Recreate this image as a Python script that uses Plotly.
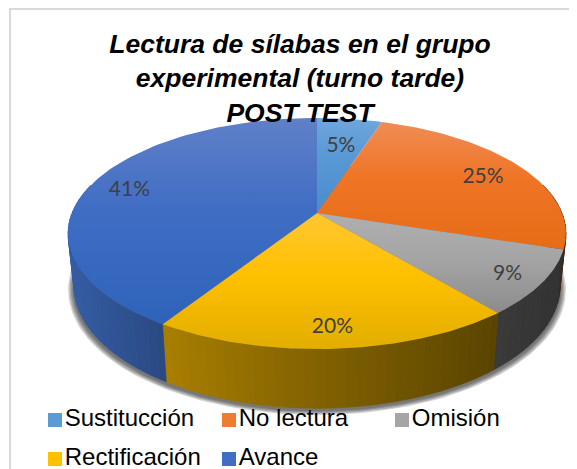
import numpy as np
import plotly.graph_objects as go

categories = ['Sustitucción', 'No lectura', 'Omisión', 'Rectificación', 'Avance']
values = [5, 25, 9, 20, 41]
base_colors = ['#5B9BD5', '#ED7D31', '#A5A5A5', '#FFC000', '#3F6EC4']
top_gradients = [
    ['#6FA6DD', '#5797D4', '#4A8DCB'],
    ['#F08C55', '#EF7425', '#E66C17'],
    ['#AFAFAF', '#A5A5A5', '#8C8C8C'],
    ['#FFC733', '#FFC000', '#E2AE00'],
    ['#6080C8', '#3F6DC4', '#2E63BA'],
]
label_radius = [0.7, 0.81, 0.86, 0.85, 0.83]
legend_x = [55, 229, 402, 55, 229]
legend_y = [420, 420, 420, 459, 459]

# pie geometry in pixels; the page body has an 8px margin, so the axes start at 8
CX, CY = 317, 213
RX, RY = 245, 111.9
PERSP = 0.1775
DEPTH = 52.6
BOTTOM_SCALE = 0.976
LABEL_DROP = 3

FONT = 'Liberation Sans'


def project(theta, r=1.0, low=False):
    u = r * np.sin(theta)
    v = -r * np.cos(theta)
    p = 1 / (1 - PERSP * v)
    if low:
        p = p * BOTTOM_SCALE
        return CX + RX * u * p, CY + (RY * v + DEPTH) * p
    return CX + RX * u * p, CY + RY * v * p


def hex_rgb(c):
    return [int(c[i:i + 2], 16) for i in (1, 3, 5)]


def wall_color(c, x):
    shade = np.interp(x, [70, 166, 330, 493, 566], [0.84, 0.66, 0.5, 0.36, 0.3])
    r, g, b = [int(k * shade) for k in hex_rgb(c)]
    return f'rgb({r},{g},{b})'


fig = go.Figure()

# soft shadow under the pie
all_theta = np.linspace(0, 2 * np.pi, 181)
for grow in [1.024, 1.018, 1.012, 1.006]:
    sx, sy = project(all_theta, low=True)
    fig.add_trace(go.Scatter(
        x=CX + (sx - CX) * grow, y=CY + 2 + (sy - CY) * grow,
        mode='lines', fill='toself', line=dict(width=0),
        fillcolor='rgba(40,40,40,0.22)', hoverinfo='skip', showlegend=False))

edges = np.cumsum([0] + values) / sum(values) * 2 * np.pi

# side walls, thin strips so the shading can run along the rim
for i, c in enumerate(base_colors):
    lo = max(edges[i], np.radians(75))
    hi = min(edges[i + 1], np.radians(285))
    if hi <= lo:
        continue
    steps = np.linspace(lo, hi, max(2, int(np.degrees(hi - lo) / 2) + 1))
    for a, b in zip(steps[:-1], steps[1:]):
        x0, y0 = project(a)
        x1, y1 = project(b)
        x2, y2 = project(b, low=True)
        x3, y3 = project(a, low=True)
        col = wall_color(c, (x0 + x1) / 2)
        fig.add_trace(go.Scatter(
            x=[x0, x1, x2, x3, x0], y=[y0, y1, y2, y3, y0],
            mode='lines', fill='toself', fillcolor=col, line=dict(color=col, width=0.6),
            hoverinfo='skip', showlegend=False))

# top face
for i, name in enumerate(categories):
    th = np.linspace(edges[i], edges[i + 1], 80)
    px, py = project(th)
    grad = top_gradients[i]
    fig.add_trace(go.Scatter(
        x=np.r_[CX, px, CX], y=np.r_[CY, py, CY],
        mode='lines', fill='toself', line=dict(width=0),
        fillgradient=dict(type='vertical', colorscale=[[0, grad[2]], [0.55, grad[1]], [1, grad[0]]]),
        name=name, hoverinfo='skip', showlegend=False))

# percentage labels
mids = (edges[:-1] + edges[1:]) / 2
lx, ly = zip(*[project(m, r) for m, r in zip(mids, label_radius)])
fig.add_trace(go.Scatter(
    x=lx, y=np.array(ly) + LABEL_DROP, mode='text', text=[f'{v}%' for v in values],
    textfont=dict(family='Lato', size=21, color='#404040'),
    hoverinfo='skip', showlegend=False))

# legend drawn as labelled squares, the rows sit further apart than a plotly legend allows
for i, name in enumerate(categories):
    fig.add_trace(go.Scatter(
        x=[legend_x[i]], y=[legend_y[i]], mode='markers+text', name=name,
        text=[name], textposition='middle right',
        textfont=dict(family=FONT, size=24, color='#000000'),
        marker=dict(symbol='square', size=14, color=base_colors[i], line=dict(width=0)),
        hoverinfo='skip', showlegend=False))

fig.update_layout(
    width=569, height=461, autosize=False,
    margin=dict(l=0, r=0, t=0, b=0),
    paper_bgcolor='white', plot_bgcolor='white',
    title=dict(
        text='<b><i>Lectura de sílabas en el grupo<br>experimental (turno tarde)<br>POST TEST</i></b>',
        font=dict(family=FONT, size=26.5, color='#000000'),
        x=292 / 569, xanchor='center', y=1 - 45 / 461, yanchor='middle'),
    xaxis=dict(range=[8, 577], visible=False, fixedrange=True),
    yaxis=dict(range=[469, 8], visible=False, fixedrange=True),
    shapes=[dict(type='rect', xref='x', yref='y', x0=10, y0=9, x1=640, y1=520,
                 line=dict(color='#D9D9D9', width=2), layer='below')],
)

fig.write_html('out.html')
